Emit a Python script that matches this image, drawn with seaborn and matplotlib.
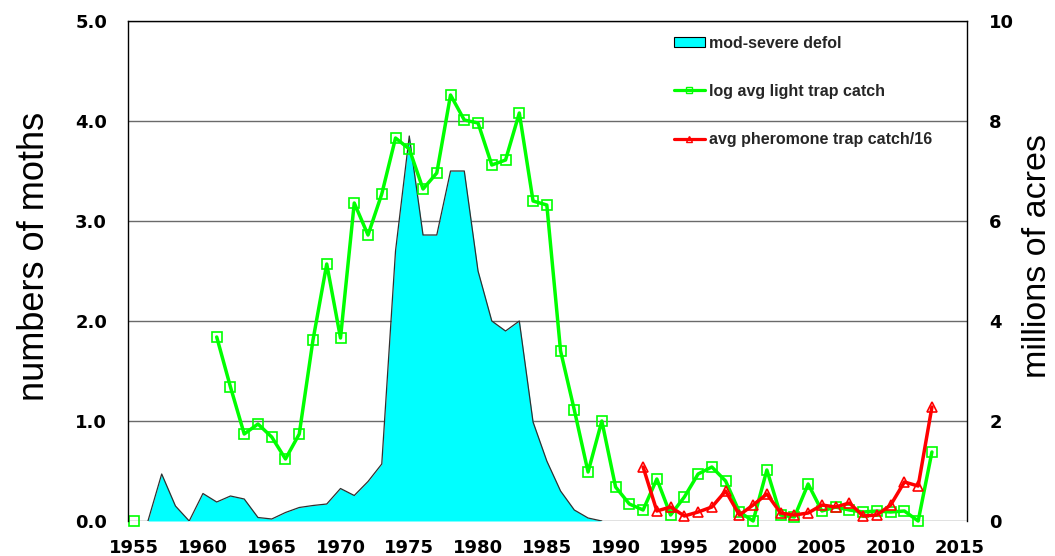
import matplotlib
matplotlib.use("Agg")
import matplotlib.pyplot as plt
import seaborn as sns
import pandas as pd
from matplotlib.patches import Patch
from matplotlib.lines import Line2D

sns.set_theme(style="white")
plt.rcParams["font.family"] = ["Liberation Sans", "DejaVu Sans"]

# ---- data ----
defol_years = list(range(1956, 1990))
defol_acres = [0.0, 0.94, 0.30, 0.0, 0.55, 0.38, 0.50, 0.44, 0.07, 0.04,
               0.17, 0.27, 0.31, 0.34, 0.65, 0.51, 0.79, 1.14, 5.4, 7.7,
               5.72, 5.72, 7.0, 7.0, 5.0, 4.0, 3.8, 4.0, 1.98, 1.2,
               0.6, 0.22, 0.06, 0.0]

light_years_early = [1955]
light_early = [0.0]
light_years = list(range(1961, 2014))
light_catch = [1.84, 1.34, 0.87, 0.97, 0.84, 0.62, 0.87, 1.81, 2.57, 1.83,
               3.18, 2.86, 3.27, 3.83, 3.72, 3.32, 3.48, 4.26, 4.01, 3.98,
               3.56, 3.61, 4.08, 3.20, 3.16, 1.70, 1.11, 0.49, 1.00, 0.34,
               0.17, 0.11, 0.42, 0.06, 0.24, 0.47, 0.54, 0.40, 0.09, 0.00,
               0.51, 0.06, 0.04, 0.37, 0.10, 0.14, 0.11, 0.09, 0.10, 0.09,
               0.10, 0.00, 0.69]

pher_years = list(range(1992, 2014))
pher_catch = [0.54, 0.10, 0.14, 0.05, 0.09, 0.14, 0.30, 0.06, 0.16, 0.27,
              0.08, 0.06, 0.08, 0.16, 0.14, 0.18, 0.05, 0.06, 0.16, 0.39,
              0.35, 1.14]

x_ticks = [1955, 1960, 1965, 1970, 1975, 1980, 1985, 1990, 1995, 2000, 2005, 2010, 2015]
left_ticks = [0, 1, 2, 3, 4, 5]
left_labels = ["0.0", "1.0", "2.0", "3.0", "4.0", "5.0"]
right_ticks = [0, 2, 4, 6, 8, 10]
right_labels = ["0", "2", "4", "6", "8", "10"]

series_names = ["mod-severe defol", "log avg light trap catch", "avg pheromone trap catch/16"]

CYAN = "#00FFFF"
GREEN = "#00FF00"
RED = "#FF0000"

df_defol = pd.DataFrame({"year": defol_years, "acres": defol_acres})
df_light = pd.DataFrame({"year": light_years, "catch": light_catch})
df_light0 = pd.DataFrame({"year": light_years_early, "catch": light_early})
df_pher = pd.DataFrame({"year": pher_years, "catch": pher_catch})

fig = plt.figure(figsize=(10.55, 5.56), dpi=100)
ax = fig.add_axes([128 / 1055, 35 / 556, (967 - 128) / 1055, (521 - 21) / 556])
ax2 = ax.twinx()
ax.set_zorder(ax2.get_zorder() + 1)
ax.patch.set_visible(False)

# ---- area on right axis ----
ax2.set_axisbelow(True)
ax2.yaxis.grid(True, color="#6a6a6a", lw=1.0)
ax2.xaxis.grid(False)
ax2.fill_between(df_defol["year"], df_defol["acres"], 0, color=CYAN, lw=0, zorder=2)
sns.lineplot(data=df_defol, x="year", y="acres", ax=ax2, color="#303030", lw=0.9,
             zorder=3, legend=False)
ax2.set_ylim(0, 10)
ax2.set_yticks(right_ticks, labels=right_labels, fontweight="bold",
               family="DejaVu Sans", fontsize=13)
ax2.tick_params(axis="y", length=0, pad=16, colors="black")
ax2.set_ylabel("millions of acres", fontsize=24.5, color="black")
ax2.yaxis.set_label_coords(1.065, 0.53)

# ---- lines on left axis ----
line_kw = dict(lw=2.5, markersize=7, markeredgewidth=1.2, markerfacecolor="none",
               clip_on=False, legend=False)
sns.lineplot(data=df_light0, x="year", y="catch", ax=ax, color=GREEN, marker="s",
             **line_kw)
sns.lineplot(data=df_light, x="year", y="catch", ax=ax, color=GREEN, marker="s",
             **line_kw)
sns.lineplot(data=df_pher, x="year", y="catch", ax=ax, color=RED, marker="^",
             **line_kw)
for ln in ax.lines:
    ln.set_markeredgecolor(ln.get_color())

ax.set_xlim(1954.55, 2015.55)
ax.set_ylim(0, 5)
ax.set_xticks(x_ticks, labels=[str(t) for t in x_ticks], fontweight="bold",
              family="DejaVu Sans", fontsize=13)
ax.set_yticks(left_ticks, labels=left_labels, fontweight="bold",
              family="DejaVu Sans", fontsize=13)
ax.tick_params(axis="y", length=0, pad=15, colors="black")
ax.tick_params(axis="x", length=0, pad=13, colors="black")
ax.set_xlabel("")
ax.set_ylabel("numbers of moths", fontsize=26, color="black")
ax.yaxis.set_label_coords(-0.09, 0.53)
ax.grid(False)

for a in (ax, ax2):
    for s in a.spines.values():
        s.set_visible(False)
for side in ("left", "right", "top"):
    ax.spines[side].set_visible(True)
    ax.spines[side].set_color("black")
    ax.spines[side].set_linewidth(1.0)

handles = [
    Patch(facecolor=CYAN, edgecolor="black", lw=0.8),
    Line2D([], [], color=GREEN, lw=2.3, marker="s", markersize=5,
           markerfacecolor="none", markeredgecolor=GREEN),
    Line2D([], [], color=RED, lw=2.3, marker="^", markersize=5,
           markerfacecolor="none", markeredgecolor=RED),
]
leg = ax.legend(handles, series_names, loc="upper left", bbox_to_anchor=(0.651, 0.971),
                frameon=False, borderpad=0, borderaxespad=0, labelspacing=2.08,
                handlelength=1.9, handletextpad=0.25, handleheight=0.55,
                prop=dict(family="Liberation Sans", weight="bold", size=11.5))

fig.savefig("out.png", dpi=100, facecolor="white")
